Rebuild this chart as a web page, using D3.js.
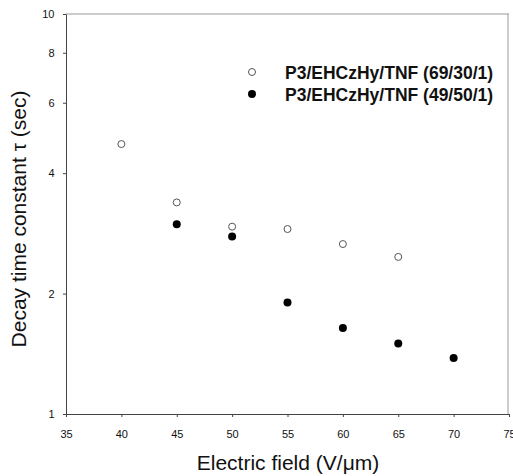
<!DOCTYPE html>
<html>
<head>
<meta charset="utf-8">
<script src="https://cdn.jsdelivr.net/npm/d3@7"></script>
<style>
  body { margin: 0; background: #fff; }
  svg { font-family: Arial, "Liberation Sans", sans-serif; }
  .tick text { font-size: 11px; fill: #111; }
  .domain, .tick line { stroke: #444; }
</style>
</head>
<body>
<svg id="chart" width="513" height="476"></svg>
<script>
/* ---------------- data ---------------- */
var fieldA = [40, 45, 50, 55, 60, 65];
var tauA   = [4.73, 3.38, 2.94, 2.90, 2.66, 2.47];
var fieldB = [45, 50, 55, 60, 65, 70];
var tauB   = [2.98, 2.78, 1.90, 1.64, 1.50, 1.38];
var seriesNames = ["P3/EHCzHy/TNF (69/30/1)", "P3/EHCzHy/TNF (49/50/1)"];
var xTicks = [35, 40, 45, 50, 55, 60, 65, 70, 75];
var yTicks = [1, 2, 4, 6, 8, 10];

/* ---------------- layout ---------------- */
var margin = {left: 66, top: 14, right: 4, bottom: 62};
var W = 513, H = 476;
var svg = d3.select("#chart");

var x = d3.scaleLinear().domain([35, 75]).range([margin.left, W - margin.right]);
var y = d3.scaleLog().domain([1, 10]).range([H - margin.bottom, margin.top]);

// frame top/right (greyish, like the scan)
svg.append("line").attr("x1", x(35)).attr("x2", x(75)).attr("y1", y(10)).attr("y2", y(10))
  .attr("stroke", "#999").attr("stroke-width", 1);
svg.append("line").attr("x1", x(75) - 1).attr("x2", x(75) - 1).attr("y1", y(10)).attr("y2", y(1))
  .attr("stroke", "#999").attr("stroke-width", 1);

var xAxis = d3.axisBottom(x).tickValues(xTicks).tickSize(3).tickSizeOuter(0)
  .tickFormat(d3.format("d"));
svg.append("g").attr("transform", "translate(0," + y(1) + ")").call(xAxis)
  .selectAll("text").attr("dy", "1.6em");

var yAxis = d3.axisLeft(y).tickValues(yTicks).tickSize(3).tickSizeOuter(0)
  .tickFormat(d3.format("d"));
svg.append("g").attr("transform", "translate(" + x(35) + ",0)").call(yAxis)
  .selectAll("text").attr("dx", "-0.5em");

// axis titles
svg.append("text").attr("x", 288).attr("y", 470).attr("text-anchor", "middle")
  .attr("font-size", "21px").attr("fill", "#111").text("Electric field (V/\u03bcm)");
svg.append("text").attr("transform", "translate(26," + 219 + ") rotate(-90)")
  .attr("text-anchor", "middle").attr("font-size", "21px").attr("fill", "#111")
  .text("Decay time constant \u03c4 (sec)");

/* ---------------- points ---------------- */
svg.append("g").selectAll("circle").data(d3.zip(fieldA, tauA)).join("circle")
  .attr("cx", function(d) { return x(d[0]); })
  .attr("cy", function(d) { return y(d[1]); })
  .attr("r", 3.5).attr("fill", "#fff").attr("stroke", "#555").attr("stroke-width", 1);

svg.append("g").selectAll("circle").data(d3.zip(fieldB, tauB)).join("circle")
  .attr("cx", function(d) { return x(d[0]); })
  .attr("cy", function(d) { return y(d[1]); })
  .attr("r", 4).attr("fill", "#000");

/* ---------------- legend ---------------- */
var legend = svg.append("g").attr("transform", "translate(252,72)");
legend.append("circle").attr("cx", 0).attr("cy", 0).attr("r", 3.5)
  .attr("fill", "#fff").attr("stroke", "#555");
legend.append("circle").attr("cx", 0).attr("cy", 22).attr("r", 4).attr("fill", "#000");
legend.selectAll("text").data(seriesNames).join("text")
  .attr("x", 33).attr("y", function(d, i) { return i * 22 + 7; })
  .attr("font-size", "17.5px").attr("font-weight", "bold").attr("fill", "#111")
  .text(function(d) { return d; });
</script>
</body>
</html>
